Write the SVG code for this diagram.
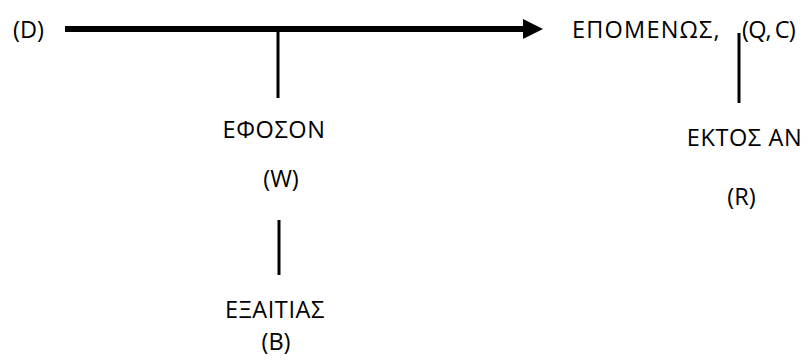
<svg xmlns="http://www.w3.org/2000/svg" width="808" height="360" viewBox="0 0 808 360">
  <style>
    .lbl { font-family: "Open Sans", "Noto Sans", "DejaVu Sans", sans-serif; font-size: 23.5px; fill: #000; text-anchor: middle; }
    .left { text-anchor: start; }
    .gr { letter-spacing: 0.6px; }
    .wide { letter-spacing: 1.2px; }
    .tight { letter-spacing: -0.8px; word-spacing: -1.5px; }
    .link { stroke: #000; fill: none; }
    .main { stroke-width: 6; }
    .thin { stroke-width: 3; }
  </style>
  <defs>
    <marker id="head" markerUnits="userSpaceOnUse" markerWidth="20" markerHeight="20" refX="0" refY="10" orient="auto" viewBox="0 0 20 20">
      <path d="M0,0 L20,10 L0,20 Z" fill="#000"/>
    </marker>
  </defs>

  <!-- connectors -->
  <g id="connectors">
    <line class="link main" x1="65" y1="29" x2="523" y2="29" marker-end="url(#head)"/>
    <line class="link thin" x1="278" y1="29" x2="278" y2="98"/>
    <line class="link thin" x1="279" y1="220" x2="279" y2="275"/>
    <line class="link thin" x1="739" y1="33" x2="739" y2="103"/>
  </g>

  <!-- data -->
  <g id="data">
    <text class="lbl" x="28.5" y="38">(D)</text>
  </g>

  <!-- claim with qualifier -->
  <g id="claim">
    <text class="lbl left wide" x="572" y="38">ΕΠΟΜΕΝΩΣ,</text>
    <text class="lbl left tight" x="742" y="38">(Q, C)</text>
  </g>

  <!-- warrant -->
  <g id="warrant">
    <text class="lbl gr" x="274" y="138">ΕΦΟΣΟΝ</text>
    <text class="lbl" x="281" y="187">(W)</text>
  </g>

  <!-- backing -->
  <g id="backing">
    <text class="lbl gr" x="275" y="318">ΕΞΑΙΤΙΑΣ</text>
    <text class="lbl" x="276" y="350">(B)</text>
  </g>

  <!-- rebuttal -->
  <g id="rebuttal">
    <text class="lbl gr" x="744.5" y="146">ΕΚΤΟΣ ΑΝ</text>
    <text class="lbl" x="741.5" y="205">(R)</text>
  </g>
</svg>
